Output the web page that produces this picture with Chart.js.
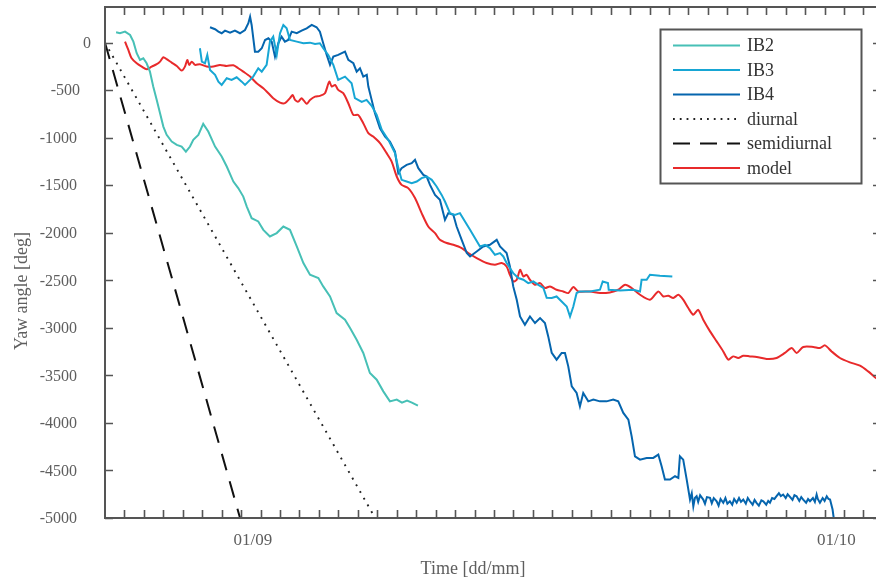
<!DOCTYPE html>
<html><head><meta charset="utf-8">
<script src="https://cdn.jsdelivr.net/npm/chart.js@4"></script>
<style>html,body{margin:0;padding:0;overflow:hidden;background:#fff}#wrap{width:882px;height:582px}</style>
</head><body><div id="wrap"><canvas id="c"></canvas></div>
<script>
// x = days since start of record, y = yaw angle [deg]
const ib2 = [[0.57,109],[0.77,99],[1.03,116],[1.29,81],[1.46,11],[1.63,-111],[1.80,-182],[1.97,-164],[2.14,-217],[2.31,-305],[2.48,-462],[2.66,-602],[2.83,-742],[3.00,-883],[3.17,-970],[3.43,-1040],[3.69,-1075],[3.94,-1093],[4.16,-1146],[4.37,-1093],[4.54,-1023],[4.80,-970],[5.05,-854],[5.31,-935],[5.66,-1093],[6.00,-1198],[6.26,-1303],[6.60,-1461],[6.85,-1530],[7.11,-1619],[7.29,-1724],[7.54,-1846],[7.88,-1881],[8.14,-1969],[8.48,-2039],[8.83,-2003],[9.17,-1934],[9.51,-1969],[9.86,-2144],[10.20,-2318],[10.54,-2441],[10.97,-2476],[11.22,-2564],[11.57,-2670],[11.91,-2844],[12.34,-2914],[12.60,-3002],[12.94,-3125],[13.28,-3264],[13.62,-3475],[13.97,-3545],[14.31,-3668],[14.65,-3773],[15.00,-3755],[15.27,-3787],[15.53,-3766],[15.78,-3787],[16.09,-3818]];

const ib3 = [[4.88,-59],[4.98,-200],[5.14,-217],[5.26,-129],[5.40,-287],[5.66,-339],[5.83,-410],[6.00,-445],[6.26,-374],[6.51,-392],[6.77,-364],[7.03,-410],[7.20,-445],[7.46,-392],[7.62,-357],[7.88,-269],[8.06,-305],[8.31,-234],[8.48,11],[8.65,63],[8.83,-129],[9.00,99],[9.17,186],[9.34,151],[9.51,28],[9.86,11],[10.20,-6],[10.54,0],[10.80,-14],[11.05,-6],[11.22,-59],[11.48,-129],[11.74,-234],[11.99,-392],[12.34,-357],[12.68,-427],[12.85,-584],[13.20,-623],[13.45,-602],[13.71,-665],[13.97,-760],[14.23,-918],[14.57,-1023],[14.91,-1162],[15.08,-1317],[15.25,-1443],[15.51,-1461],[15.77,-1478],[16.03,-1461],[16.28,-1425],[16.54,-1408],[16.80,-1443],[17.05,-1513],[17.31,-1601],[17.48,-1671],[17.74,-1793],[17.99,-1811],[18.25,-1793],[18.51,-1881],[18.77,-1969],[19.02,-2056],[19.28,-2144],[19.54,-2127],[19.79,-2161],[20.05,-2231],[20.31,-2214],[20.48,-2249],[20.65,-2318],[20.82,-2371],[20.99,-2424],[21.25,-2476],[21.51,-2494],[21.76,-2529],[22.02,-2512],[22.28,-2547],[22.54,-2581],[22.71,-2683],[22.97,-2686],[23.22,-2670],[23.48,-2722],[23.74,-2775],[23.91,-2880],[24.08,-2775],[24.25,-2634],[24.42,-2617],[24.94,-2617],[25.45,-2599],[25.59,-2512],[25.86,-2529],[25.90,-2599],[26.48,-2606],[27.16,-2599],[27.51,-2617],[27.59,-2494],[27.85,-2494],[28.02,-2441],[28.53,-2452],[29.17,-2459]];

const ib4 = [[5.40,162],[5.66,141],[5.83,116],[6.00,99],[6.17,126],[6.43,105],[6.68,126],[6.94,99],[7.20,133],[7.37,204],[7.46,273],[7.54,186],[7.71,-95],[7.88,-95],[8.06,-59],[8.23,28],[8.40,46],[8.57,11],[8.74,-147],[8.91,-6],[9.08,63],[9.25,11],[9.42,28],[9.60,116],[9.86,99],[10.11,126],[10.37,151],[10.63,186],[10.88,162],[11.05,116],[11.22,-6],[11.40,-129],[11.57,-234],[11.74,-147],[11.99,-129],[12.34,-95],[12.51,-182],[12.77,-217],[12.94,-305],[13.11,-269],[13.28,-357],[13.46,-339],[13.54,-462],[13.71,-602],[13.88,-742],[14.14,-900],[14.40,-988],[14.65,-1040],[14.91,-1146],[15.08,-1373],[15.25,-1320],[15.51,-1285],[15.77,-1268],[15.94,-1233],[16.11,-1320],[16.37,-1391],[16.54,-1408],[16.71,-1496],[16.97,-1601],[17.22,-1653],[17.48,-1864],[17.65,-1793],[17.91,-1811],[18.08,-1934],[18.34,-2074],[18.60,-2213],[18.77,-2249],[19.11,-2197],[19.45,-2144],[19.79,-2126],[20.14,-2074],[20.31,-2144],[20.65,-2213],[20.82,-2354],[20.99,-2564],[21.17,-2704],[21.34,-2880],[21.59,-2967],[21.85,-2880],[22.11,-2949],[22.37,-2897],[22.62,-2949],[22.79,-3090],[22.97,-3264],[23.22,-3335],[23.48,-3264],[23.65,-3264],[23.82,-3405],[24.00,-3615],[24.25,-3685],[24.42,-3826],[24.59,-3685],[24.85,-3773],[25.11,-3755],[25.45,-3773],[25.79,-3773],[26.13,-3755],[26.39,-3773],[26.65,-3895],[26.91,-3965],[27.08,-4141],[27.25,-4351],[27.51,-4386],[27.85,-4368],[28.19,-4368],[28.45,-4333],[28.62,-4456],[28.79,-4596],[29.05,-4596],[29.31,-4561],[29.48,-4578],[29.56,-4351],[29.73,-4386],[29.91,-4596],[30.08,-4806],[30.17,-4740],[30.25,-4877],[30.33,-4790],[30.42,-4771],[30.50,-4830],[30.60,-4760],[30.76,-4806],[30.85,-4850],[30.95,-4780],[31.11,-4788],[31.20,-4845],[31.30,-4790],[31.45,-4824],[31.55,-4870],[31.65,-4800],[31.79,-4840],[31.90,-4790],[32.00,-4850],[32.13,-4824],[32.25,-4860],[32.35,-4800],[32.48,-4840],[32.60,-4790],[32.70,-4830],[32.82,-4806],[32.95,-4850],[33.05,-4790],[33.16,-4824],[33.30,-4860],[33.40,-4810],[33.50,-4840],[33.62,-4870],[33.75,-4815],[33.85,-4824],[34.00,-4860],[34.10,-4820],[34.19,-4840],[34.30,-4790],[34.42,-4800],[34.53,-4771],[34.65,-4740],[34.75,-4770],[34.87,-4753],[35.00,-4790],[35.10,-4750],[35.22,-4778],[35.35,-4810],[35.45,-4760],[35.56,-4771],[35.70,-4820],[35.80,-4780],[35.90,-4806],[36.05,-4840],[36.15,-4800],[36.25,-4824],[36.40,-4790],[36.50,-4830],[36.59,-4753],[36.65,-4800],[36.76,-4840],[36.90,-4790],[37.00,-4820],[37.11,-4771],[37.20,-4800],[37.28,-4806],[37.41,-4911],[37.48,-5016]];

const diurnal = [[0,0],[13.889,-5000]];
const semidiurnal = [[0,0],[6.944,-5000]];

const model = [[1.03,11],[1.20,-77],[1.37,-164],[1.63,-217],[1.89,-252],[2.14,-280],[2.40,-252],[2.66,-227],[2.83,-200],[3.00,-153],[3.17,-174],[3.43,-210],[3.69,-245],[3.94,-294],[4.11,-252],[4.23,-182],[4.33,-234],[4.46,-200],[4.63,-234],[4.88,-227],[5.23,-252],[5.57,-252],[5.91,-234],[6.26,-245],[6.60,-238],[6.85,-269],[7.11,-305],[7.46,-357],[7.80,-427],[8.14,-479],[8.40,-532],[8.65,-584],[9.00,-631],[9.25,-637],[9.51,-584],[9.65,-550],[9.77,-602],[9.94,-620],[10.11,-584],[10.37,-644],[10.54,-602],[10.80,-568],[11.05,-560],[11.31,-532],[11.53,-410],[11.66,-462],[11.83,-445],[11.99,-497],[12.25,-532],[12.51,-637],[12.77,-760],[13.02,-760],[13.28,-847],[13.54,-952],[13.79,-988],[14.14,-1057],[14.48,-1162],[14.74,-1251],[15.00,-1408],[15.25,-1496],[15.59,-1530],[15.94,-1635],[16.28,-1793],[16.62,-1934],[16.97,-2003],[17.22,-2074],[17.57,-2108],[17.91,-2126],[18.34,-2161],[18.68,-2213],[19.11,-2266],[19.62,-2318],[20.05,-2336],[20.40,-2318],[20.65,-2354],[20.82,-2442],[20.99,-2512],[21.17,-2494],[21.34,-2389],[21.51,-2459],[21.68,-2442],[21.85,-2494],[22.11,-2547],[22.37,-2529],[22.62,-2581],[22.88,-2564],[23.22,-2599],[23.56,-2617],[23.82,-2634],[24.08,-2571],[24.34,-2617],[24.94,-2617],[25.45,-2634],[25.96,-2627],[26.39,-2599],[26.74,-2547],[27.08,-2581],[27.51,-2652],[28.02,-2704],[28.45,-2617],[28.71,-2670],[28.96,-2662],[29.22,-2686],[29.48,-2652],[29.73,-2704],[29.99,-2791],[30.25,-2862],[30.50,-2810],[30.76,-2914],[31.11,-3037],[31.45,-3142],[31.79,-3248],[32.05,-3335],[32.30,-3300],[32.56,-3317],[32.82,-3293],[33.16,-3300],[33.51,-3306],[34.02,-3327],[34.53,-3317],[34.96,-3264],[35.31,-3212],[35.56,-3264],[35.90,-3201],[36.42,-3201],[36.76,-3212],[37.02,-3184],[37.36,-3248],[37.79,-3317],[38.30,-3363],[38.82,-3398],[39.24,-3458],[39.64,-3527],[39.90,-3565]];

const seriesNames = ['IB2','IB3','IB4','diurnal','semidiurnal','model'];
const yTicks = [0,-500,-1000,-1500,-2000,-2500,-3000,-3500,-4000,-4500,-5000];
const dayTicks = Array.from({length:39},(_,i)=>i+1);
const xTickLabels = [[7.6,'01/09'],[37.6,'01/10']];
const xTitle = 'Time [dd/mm]';
const yTitle = 'Yaw angle [deg]';

const toXY = a => a.map(p => ({x:p[0], y:p[1]}));
const colors = {IB2:'#47c0b6', IB3:'#17a6d4', IB4:'#0565ae', diurnal:'#222', semidiurnal:'#111', model:'#e82a2b'};

const FONT = '"Liberation Serif", "DejaVu Serif", serif';

const decor = {
  id:'decor',
  afterDraw(chart){
    const c = chart.ctx, a = chart.chartArea;
    const xs = chart.scales.x, ys = chart.scales.y;
    c.save();
    c.strokeStyle = '#555';
    // ticks
    c.lineWidth = 1.6;
    c.beginPath();
    dayTicks.forEach(d => {
      const x = Math.round(xs.getPixelForValue(d)) + 0.5;
      c.moveTo(x, a.bottom); c.lineTo(x, a.bottom - 8);
      c.moveTo(x, a.top); c.lineTo(x, a.top + 8);
    });
    yTicks.forEach(v => {
      const y = Math.round(ys.getPixelForValue(v)) + 0.5;
      c.moveTo(a.left, y); c.lineTo(a.left + 8, y);
      c.moveTo(a.right, y); c.lineTo(a.right - 8, y);
    });
    c.stroke();
    // frame
    c.lineWidth = 2;
    c.strokeRect(a.left, a.top, a.right - a.left, a.bottom - a.top);
    // tick labels
    c.fillStyle = '#5e5e5e';
    c.font = '16px ' + FONT;
    c.textBaseline = 'middle';
    c.textAlign = 'right';
    yTicks.forEach(v => {
      const s = String(v);
      const off = s.length === 1 ? 14 : (s.length === 4 ? 3 : 0);
      c.fillText(s, a.left - 28 + off, ys.getPixelForValue(v) + 1);
    });
    c.textAlign = 'center';
    c.font = '17px ' + FONT;
    xTickLabels.forEach(([d, s]) => c.fillText(s, xs.getPixelForValue(d), a.bottom + 23));
    // axis titles
    c.font = '18px ' + FONT;
    c.fillText(xTitle, 473, 569);
    c.save();
    c.translate(22, 291);
    c.rotate(-Math.PI/2);
    c.fillText(yTitle, 0, 0);
    c.restore();
    // legend
    const bx = 660.5, by = 29.5, bw = 201, bh = 154;
    c.fillStyle = '#fff';
    c.fillRect(bx, by, bw, bh);
    c.strokeStyle = '#555';
    c.lineWidth = 2;
    c.strokeRect(bx, by, bw, bh);
    c.textAlign = 'left';
    c.font = '18px ' + FONT;
    chart.data.datasets.forEach((ds, i) => {
      const y = 45.5 + i * 24.5;
      c.save();
      c.strokeStyle = ds.borderColor;
      c.lineWidth = ds.borderWidth;
      c.setLineDash(ds.legendDash || ds.borderDash || []);
      c.beginPath(); c.moveTo(673, y); c.lineTo(740, y); c.stroke();
      c.restore();
      c.fillStyle = '#333';
      c.fillText(ds.label, 747, y + 1);
    });
    c.restore();
  }
};

const mk = (name, data, extra) => Object.assign({
  label:name, data:toXY(data), borderColor:colors[name], backgroundColor:colors[name],
  borderWidth:2, pointRadius:0, tension:0, fill:false
}, extra || {});

new Chart(document.getElementById('c'), {
  type:'line',
  data:{datasets:[
    mk('IB2', ib2),
    mk('IB3', ib3),
    mk('IB4', ib4),
    mk('diurnal', diurnal, {borderWidth:1.9, borderDash:[1.9,5.8], legendDash:[1.8,5.0]}),
    mk('semidiurnal', semidiurnal, {borderWidth:2, borderDash:[17,11.5], legendDash:[17,10]}),
    mk('model', model, {tension:0.25})
  ]},
  options:{
    responsive:true, maintainAspectRatio:false, animation:false,
    layout:{padding:{left:105, top:7, right:1, bottom:64}},
    scales:{
      x:{type:'linear', min:0, max:39.9, display:false},
      y:{type:'linear', min:-5000, max:375, display:false}
    },
    plugins:{legend:{display:false}, tooltip:{enabled:false}}
  },
  plugins:[decor]
});
</script>
</body></html>
